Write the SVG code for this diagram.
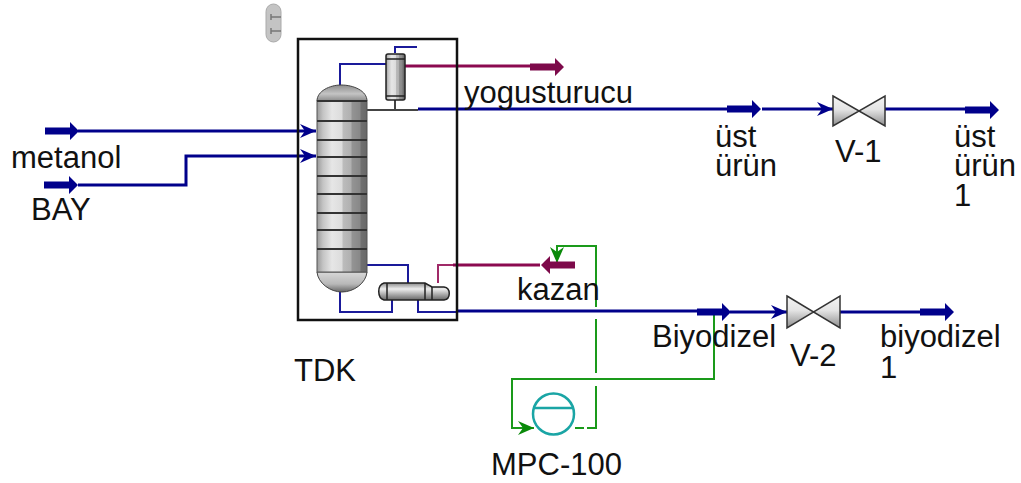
<svg xmlns="http://www.w3.org/2000/svg" width="1021" height="483" viewBox="0 0 1021 483">
<style>
text{font-family:"Liberation Sans",Arial,sans-serif;font-size:31px;fill:#111}
.b{fill:none;stroke:#00008b;stroke-width:3}
.t{fill:none;stroke:#1a1a9a;stroke-width:2}
.r{fill:none;stroke:#8b0a50;stroke-width:3}
.rt{fill:none;stroke:#a02a68;stroke-width:2}
.g{fill:none;stroke:#1a9a1a;stroke-width:2}
.tr{stroke:#333;stroke-width:2}
.vl{stroke:#333;stroke-width:1.500;fill:url(#vg)}
</style>
<defs>
<linearGradient id="cg" x1="0" x2="1" y1="0" y2="0">
<stop offset="0" stop-color="#9a9a9a"/><stop offset=".12" stop-color="#c4c4c4"/><stop offset=".3" stop-color="#e6e6e6"/><stop offset=".5" stop-color="#dcdcdc"/><stop offset=".52" stop-color="#bcbcbc"/><stop offset=".68" stop-color="#b0b0b0"/><stop offset=".7" stop-color="#949494"/><stop offset=".86" stop-color="#888"/><stop offset=".88" stop-color="#707070"/><stop offset="1" stop-color="#686868"/>
</linearGradient>
<linearGradient id="dg" x1="0" x2="0" y1="0" y2="1">
<stop offset="0" stop-color="#8c8c8c"/><stop offset=".55" stop-color="#c4c4c4"/><stop offset="1" stop-color="#8a8a8a"/>
</linearGradient>
<linearGradient id="dh" x1="0" x2="0" y1="0" y2="1">
<stop offset="0" stop-color="#d8d8d8"/><stop offset=".6" stop-color="#b8b8b8"/><stop offset="1" stop-color="#666"/>
</linearGradient>
<linearGradient id="vg" x1="0" x2="0" y1="0" y2="1">
<stop offset="0" stop-color="#f4f4f4"/><stop offset=".45" stop-color="#e4e4e4"/><stop offset="1" stop-color="#8c8c8c"/>
</linearGradient>
<linearGradient id="hg" x1="0" x2="0" y1="0" y2="1">
<stop offset="0" stop-color="#8a8a8a"/><stop offset=".35" stop-color="#eeeeee"/><stop offset="1" stop-color="#666"/>
</linearGradient>
<marker id="ob" markerUnits="userSpaceOnUse" markerWidth="18" markerHeight="16" refX="17" refY="8" orient="auto"><path d="M1 1L17 8L1 15L6 8Z" fill="#00008b"/></marker>
<marker id="og" markerUnits="userSpaceOnUse" markerWidth="18" markerHeight="16" refX="17" refY="8" orient="auto"><path d="M1 1L17 8L1 15L6 8Z" fill="#0a8a0a"/></marker>
<path id="fb" d="M0-3.500H25V-9L34 0L25 9V3.500H0Z" fill="#00008b"/>
<path id="fr" d="M0-3.500H25V-9L34 0L25 9V3.500H0Z" fill="#7d0a4a"/>
</defs>

<g id="connectors">
<path class="b" d="M78 131H316" marker-end="url(#ob)"/>
<path class="b" d="M78 185H186V156H316" marker-end="url(#ob)"/>
<path class="t" d="M340 85V64H386"/>
<path class="t" d="M395 53V47H417"/>
<path d="M367 110H418M395 100V110" fill="none" stroke="#444" stroke-width="2"/>
<path class="b" d="M418 109H727"/>
<path class="r" d="M405 66H530"/>
<path class="b" d="M762 109H833" marker-end="url(#ob)"/>
<path class="b" d="M885 109H965"/>
<path class="t" d="M367 265H408V283"/>
<path class="t" d="M340 292V312H392V300"/>
<path class="t" d="M418 300V312H457"/>
<path class="b" d="M457 311H697"/>
<path class="b" d="M730 312H787" marker-end="url(#ob)"/>
<path class="b" d="M840 312H920"/>
<path class="rt" d="M438 283V265H453"/>
<path class="r" d="M453 265H540"/>
<path class="g" d="M575 428H584M587 428H596V386M596 373V319M596 307V246H557V263" marker-end="url(#og)"/>
<path class="g" d="M714 315V379H512V428H534" marker-end="url(#og)"/>
</g>

<g id="TT">
<rect x="266" y="4" width="15" height="38" rx="7.500" fill="#c4c4c4" stroke="#aaa"/>
<path d="M271 17H281M271 14V20M271 31H281M271 28V34" stroke="#777" stroke-width="1.500" fill="none"/>
</g>

<g id="TDK">
<rect x="298" y="39" width="159" height="281" fill="none" stroke="#111" stroke-width="2.500"/>
<g id="column">
<path d="M317 101C317 91 330 85 341 85C354 85 367 91 367 101Z" fill="url(#dg)" stroke="#444"/>
<path d="M317 272C318 283 330 292 342 292C354 292 366 283 367 272Z" fill="url(#dh)" stroke="#444"/>
<rect x="317" y="101" width="50" height="171" fill="url(#cg)" stroke="#555"/>
<path class="tr" d="M317 101H367M317 121H367M317 140H367M317 157H367M317 176H367M317 194H367M317 213H367M317 230H367M317 249H367"/>
</g>
<g id="condenser">
<rect x="386" y="54" width="19" height="46" rx="2" fill="url(#cg)" stroke="#222" stroke-width="1.500"/>
<path d="M386 59H405M386 96H405" stroke="#222" stroke-width="1.500"/>
</g>
<g id="reboiler">
<path d="M384 283H425L432 287H444C451 288 451 299 444 300H384C377 298 377 285 384 283Z" fill="url(#hg)" stroke="#222" stroke-width="1.500"/>
<path d="M387 283V300M425 283V300M432 287V300" stroke="#222" stroke-width="1.500"/>
</g>
<text x="294" y="381">TDK</text>
</g>

<g id="metanol"><use href="#fb" x="45" y="131"/><text x="11" y="168">metanol</text></g>
<g id="BAY"><use href="#fb" x="44" y="185"/><text x="31" y="220">BAY</text></g>
<g id="yogusturucu"><use href="#fr" x="530" y="67"/><text x="464" y="103">yogusturucu</text></g>
<g id="ust-urun"><use href="#fb" x="727" y="109"/><text x="715" y="147">üst</text><text x="715" y="176">ürün</text></g>
<g id="V-1"><path class="vl" d="M833 96L885 126V96L833 126Z"/><text x="835" y="162">V-1</text></g>
<g id="ust-urun-1"><use href="#fb" x="965" y="110"/><text x="954" y="147">üst</text><text x="954" y="176">ürün</text><text x="954" y="206">1</text></g>
<g id="kazan"><use href="#fr" transform="translate(575 265) scale(-1 1)"/><text x="517" y="300">kazan</text></g>
<g id="Biyodizel"><use href="#fb" x="697" y="312"/><text x="652" y="347">Biyodizel</text></g>
<g id="V-2"><path class="vl" d="M787 296L840 328V296L787 328Z"/><text x="790" y="366">V-2</text></g>
<g id="biyodizel-1"><use href="#fb" x="920" y="312"/><text x="880" y="347">biyodizel</text><text x="880" y="378">1</text></g>
<g id="MPC-100"><circle cx="553.500" cy="414" r="20.500" fill="none" stroke="#1aa5a5" stroke-width="2.500"/><path d="M533 408H574" stroke="#1aa5a5" stroke-width="2.500"/><text x="491" y="475">MPC-100</text></g>
</svg>
